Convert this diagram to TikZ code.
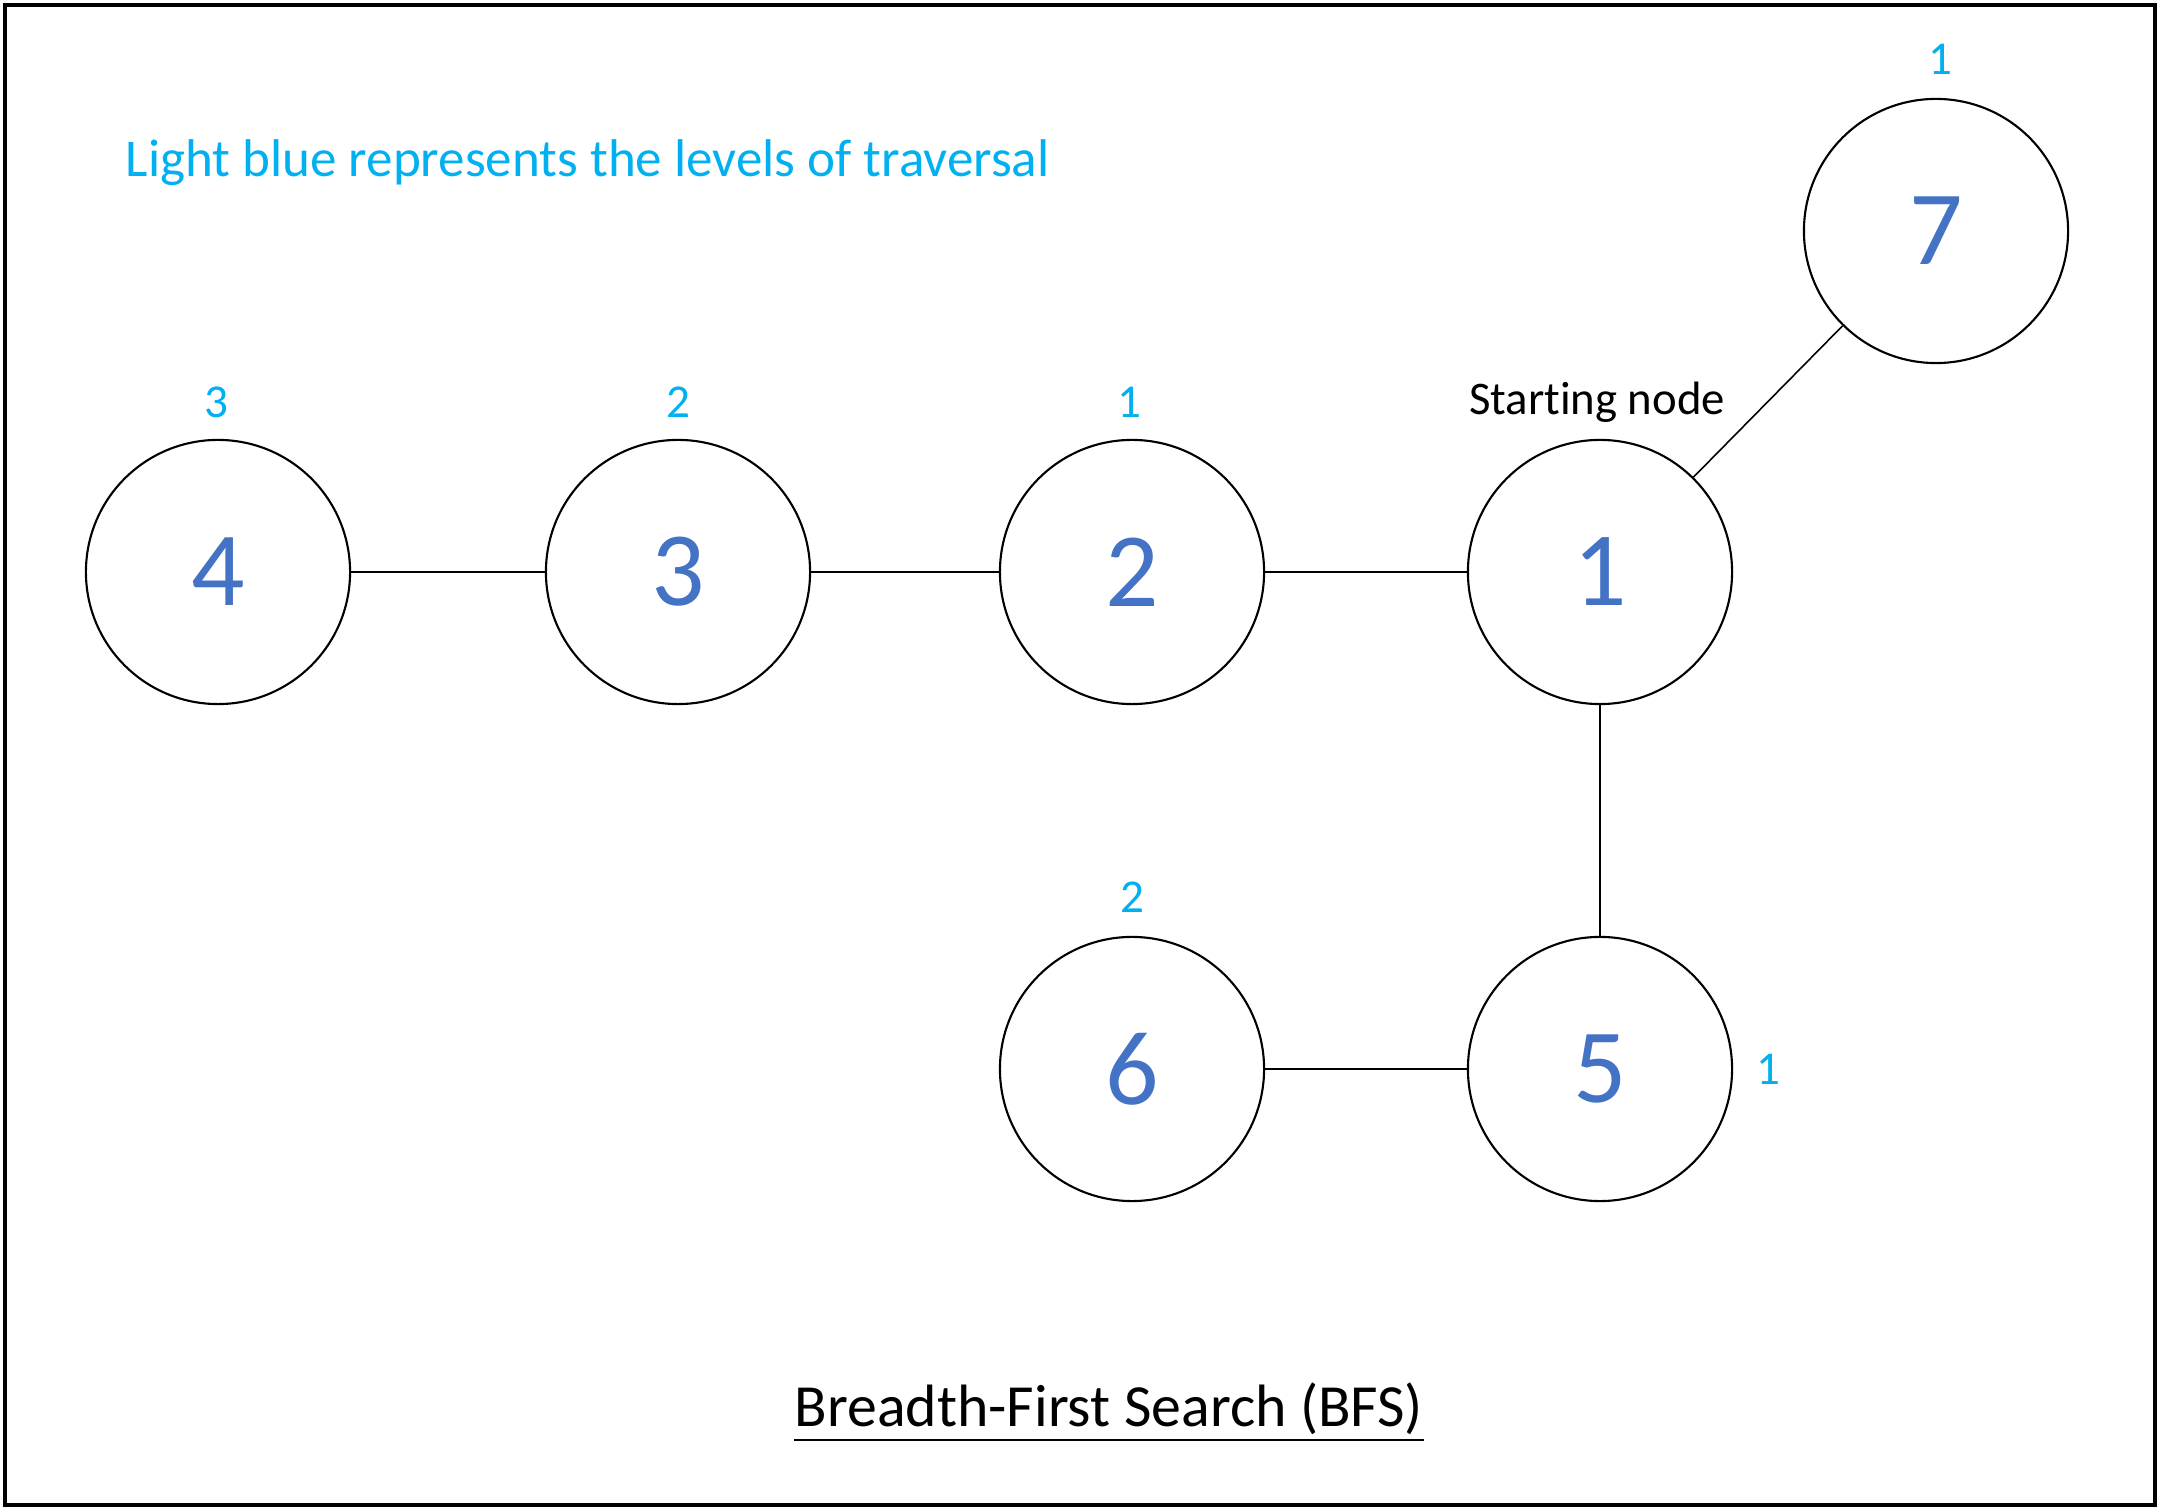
\documentclass[tikz,border=0pt]{standalone}
\usepackage{fontspec}
\setmainfont{Carlito}[Ligatures=NoCommon]
\definecolor{numblue}{HTML}{4472C4}
\definecolor{lvlblue}{HTML}{00B0F0}
\begin{document}
\begin{tikzpicture}[x=0.01cm,y=-0.01cm,
    vertex/.style={circle,draw,line width=0.6pt,minimum size=2.64cm,inner sep=0pt,
      text=numblue,font=\fontsize{30}{32}\selectfont},
    level/.style={text=lvlblue,font=\fontsize{13.4}{15}\selectfont,inner sep=0pt},
    edge/.style={line width=0.45pt}]
  \draw[line width=1pt] (5,5) rectangle (2155,1505);
  \useasboundingbox (0,0) rectangle (2160,1510);
  \node[vertex] (n4) at (218,572) {4};
  \node[vertex] (n3) at (678,572) {3};
  \node[vertex] (n2) at (1132,572) {2};
  \node[vertex] (n1) at (1600,572) {1};
  \node[vertex] (n7) at (1936,231) {7};
  \node[vertex] (n6) at (1132,1069) {6};
  \node[vertex] (n5) at (1600,1069) {5};
  \draw[edge] (n4) -- (n3);
  \draw[edge] (n3) -- (n2);
  \draw[edge] (n2) -- (n1);
  \draw[edge] (n1) -- (n7);
  \draw[edge] (n1) -- (n5);
  \draw[edge] (n6) -- (n5);
  % traversal levels
  \node[level] (l4) at (216,402) {3};
  \node[level] (l3) at (678,402) {2};
  \node[level] (l2) at (1129,402) {1};
  \node[level] (l7) at (1940,59) {1};
  \node[level] (l6) at (1132,897) {2};
  \node[level] (l5) at (1768,1069) {1};
  \node[font=\fontsize{13.3}{15}\selectfont,inner sep=0pt] (start) at (1597,402) {Starting node};
  \node[text=lvlblue,font=\fontsize{15.1}{18}\selectfont,anchor=base west,inner sep=0pt] (note) at (125,177) {Light blue represents the levels of traversal};
  \node[font=\fontsize{17}{20}\selectfont,anchor=base,inner sep=0pt] (title) at (1109,1426) {Breadth-First Search (BFS)};
  \draw[line width=0.8pt] ([yshift=-4pt]title.base west) -- ([yshift=-4pt]title.base east);
\end{tikzpicture}
\end{document}
